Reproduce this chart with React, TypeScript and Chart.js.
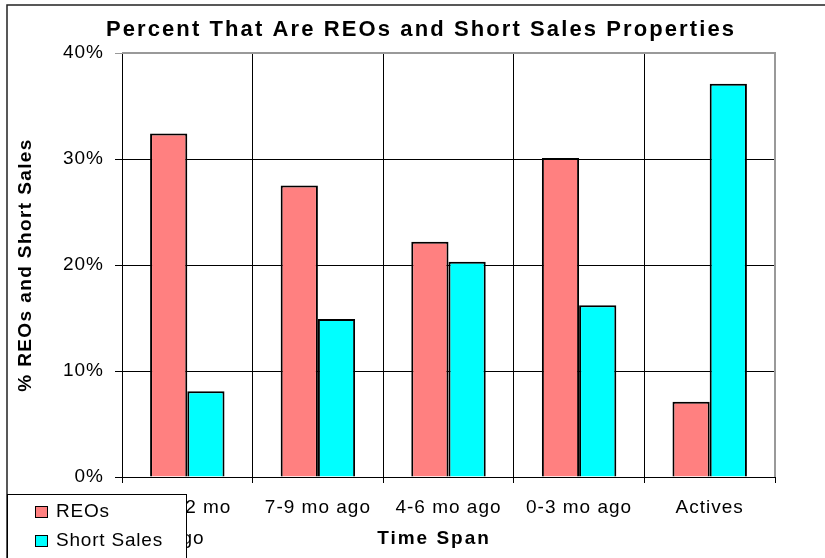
import React, { useEffect, useRef } from "react";
import { Chart, registerables } from "chart.js";

Chart.register(...registerables);

const categories: (string | string[])[] = [["10-12 mo", "ago"], "7-9 mo ago", "4-6 mo ago", "0-3 mo ago", "Actives"];
const reoValues = [32.4, 27.5, 22.2, 30.1, 7.1];
const shortSaleValues = [8.1, 14.9, 20.3, 16.2, 37.1];
const seriesNames = ["REOs", "Short Sales"];
const chartTitle = "Percent That Are REOs and Short Sales Properties";
const xTitle = "Time Span";
const yTitle = "% REOs and Short Sales";

const FONT = "'Liberation Sans', Arial, sans-serif";

const spacingPlugin = {
  id: "spacing",
  beforeDraw(chart: any) {
    (chart.ctx as any).letterSpacing = "1px";
  },
};

const decorPlugin = {
  id: "decor",
  afterDraw(chart: any) {
    const ctx = chart.ctx as any;
    const area = chart.chartArea;
    ctx.save();
    // plot border (top & right) gray
    ctx.strokeStyle = "#999999";
    ctx.lineWidth = 2;
    ctx.beginPath();
    ctx.moveTo(area.left, area.top);
    ctx.lineTo(area.right, area.top);
    ctx.lineTo(area.right, area.bottom);
    ctx.stroke();

    // outer border
    ctx.strokeStyle = "#222222";
    ctx.lineWidth = 1.5;
    ctx.beginPath();
    ctx.moveTo(7, 560);
    ctx.lineTo(7, 5);
    ctx.lineTo(830, 5);
    ctx.stroke();

    // title
    ctx.fillStyle = "#000";
    ctx.textAlign = "center";
    ctx.textBaseline = "middle";
    ctx.letterSpacing = "2.1px";
    ctx.font = `bold 22px ${FONT}`;
    ctx.fillText(chartTitle, 421, 30);

    // x title
    ctx.letterSpacing = "2px";
    ctx.font = `bold 19px ${FONT}`;
    ctx.fillText(xTitle, 434, 539);

    // y title
    ctx.save();
    ctx.letterSpacing = "1.4px";
    ctx.font = `bold 19px ${FONT}`;
    ctx.translate(26, 265);
    ctx.rotate(-Math.PI / 2);
    ctx.fillText(yTitle, 0, 0);
    ctx.restore();

    // legend box
    ctx.fillStyle = "#fff";
    ctx.fillRect(8, 495, 179, 70);
    ctx.strokeStyle = "#000";
    ctx.lineWidth = 1;
    ctx.strokeRect(7.5, 494.5, 179, 70);
    const ds = chart.data.datasets;
    ds.forEach((d: any, i: number) => {
      const y = 506 + i * 29;
      ctx.fillStyle = d.backgroundColor;
      ctx.fillRect(35, y, 13, 12);
      ctx.strokeStyle = "#000";
      ctx.lineWidth = 1;
      ctx.strokeRect(35.5, y + 0.5, 12, 11);
      ctx.fillStyle = "#000";
      ctx.textAlign = "left";
      ctx.textBaseline = "middle";
      ctx.letterSpacing = "0.8px";
      ctx.font = `19px ${FONT}`;
      ctx.fillText(d.label, 56, y + 6);
    });
    ctx.restore();
  },
};

export default function App() {
  const ref = useRef<HTMLCanvasElement>(null);
  useEffect(() => {
    document.body.style.margin = "0";
    const chart = new Chart(ref.current as HTMLCanvasElement, {
      type: "bar",
      data: {
        labels: categories as any,
        datasets: [
          {
            label: seriesNames[0],
            data: reoValues,
            backgroundColor: "#FF8080",
            borderColor: "#000000",
            borderWidth: 2,
            categoryPercentage: 0.57,
            barPercentage: 1.0,
          },
          {
            label: seriesNames[1],
            data: shortSaleValues,
            backgroundColor: "#00FFFF",
            borderColor: "#000000",
            borderWidth: 2,
            categoryPercentage: 0.57,
            barPercentage: 1.0,
          },
        ],
      },
      options: {
        animation: false,
        responsive: false,
        maintainAspectRatio: false,
        layout: { padding: { left: 0, top: 53, right: 50, bottom: 0 } },
        plugins: {
          legend: { display: false },
          title: { display: false },
          tooltip: { enabled: false },
        },
        scales: {
          x: {
            offset: true,
            grid: {
              offset: true,
              color: (c: any) => (c.index === categories.length ? "#999999" : "#000000"),
              lineWidth: 1,
              tickLength: 6,
              drawTicks: true,
            },
            border: { color: "#000000", width: 1 },
            ticks: {
              color: "#000",
              font: { family: FONT, size: 19, lineHeight: 1.65 },
              padding: 9,
              maxRotation: 0,
              autoSkip: false,
            },
            afterFit: (s: any) => {
              s.height = 81;
            },
          },
          y: {
            min: 0,
            max: 40,
            grid: {
              color: (c: any) => (c.tick && c.tick.value === 40 ? "#999999" : "#000000"),
              lineWidth: 1,
              tickLength: 7,
            },
            border: { color: "#000000", width: 1 },
            ticks: {
              stepSize: 10,
              color: "#000",
              font: { family: FONT, size: 19 },
              padding: 11,
              callback: (v: any) => v + "%",
            },
            afterFit: (s: any) => {
              s.width = 122;
            },
          },
        },
      },
      plugins: [spacingPlugin, decorPlugin],
    });
    return () => chart.destroy();
  }, []);
  return (
    <div style={{ position: "absolute", left: 0, top: 0, width: 825, height: 558, background: "#fff" }}>
      <canvas ref={ref} width={825} height={558} style={{ display: "block" }} />
    </div>
  );
}
